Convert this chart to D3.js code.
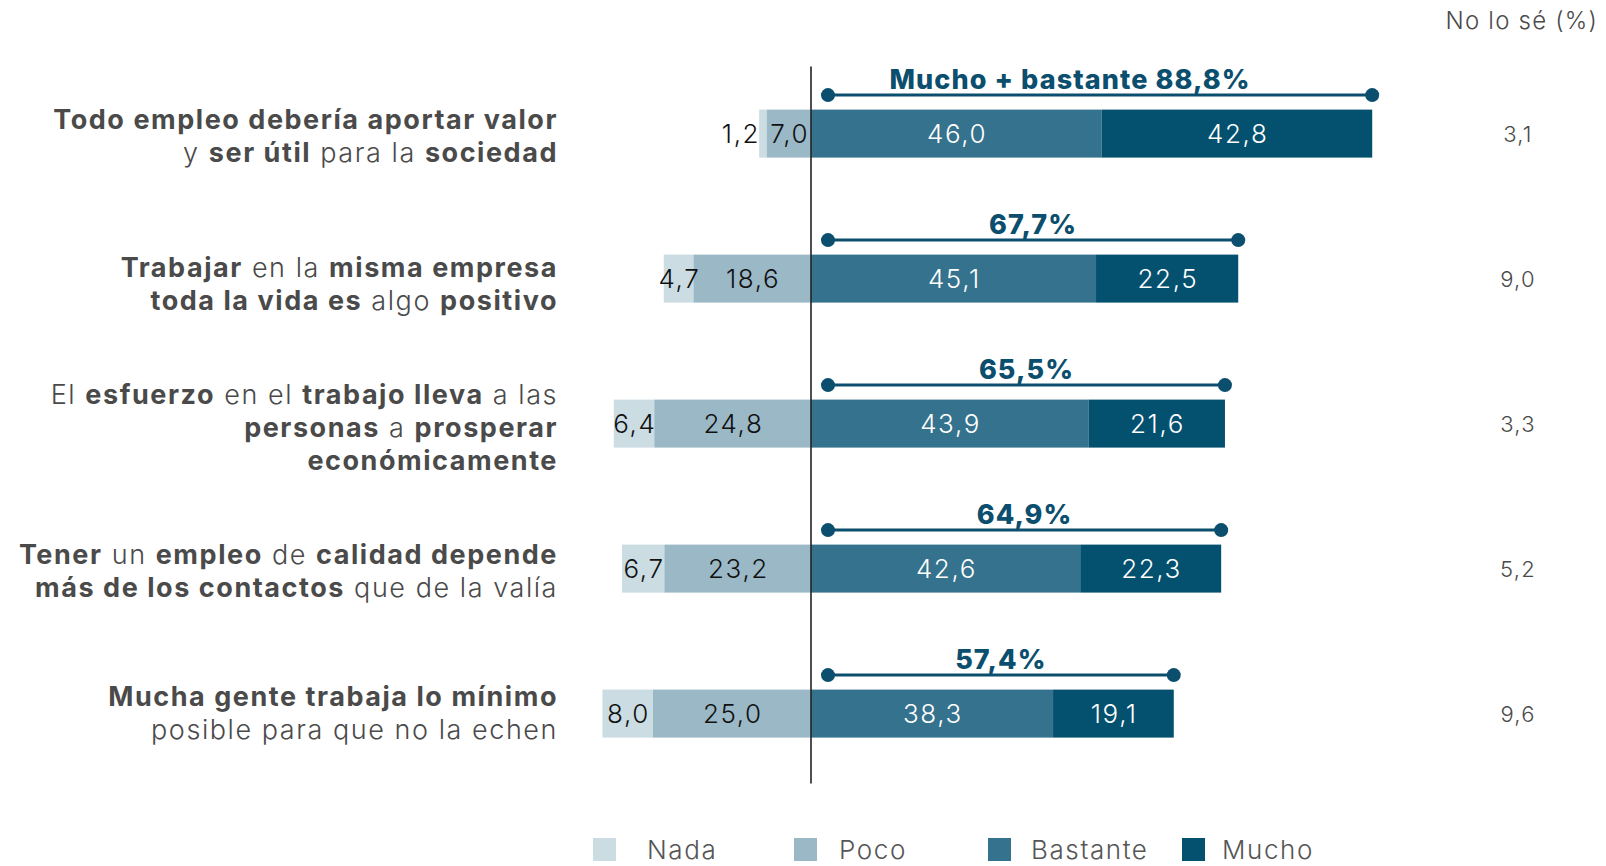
<!DOCTYPE html>
<html><head><meta charset="utf-8">
<script src="https://cdn.jsdelivr.net/npm/d3@7"></script>
<style>
html,body{margin:0;padding:0;background:#fff;}
svg{display:block;font-family:Inter,"Open Sans",sans-serif;}
</style></head>
<body><svg id="c" width="1606" height="866"></svg>
<script>
const categories = ["r1","r2","r3","r4","r5"];
const labels = [
  ["**Todo empleo debería aportar valor**", "y **ser útil** para la **sociedad**"],
  ["**Trabajar** en la **misma empresa**", "**toda la vida es** algo **positivo**"],
  ["El **esfuerzo** en el **trabajo lleva** a las", "**personas** a **prosperar**", "**económicamente**"],
  ["**Tener** un **empleo** de **calidad depende**", "**más de los contactos** que de la valía"],
  ["**Mucha gente trabaja lo mínimo**", "posible para que no la echen"]
];
const nada     = [1.2, 4.7, 6.4, 6.7, 8.0];
const poco     = [7.0, 18.6, 24.8, 23.2, 25.0];
const bastante = [46.0, 45.1, 43.9, 42.6, 38.3];
const mucho    = [42.8, 22.5, 21.6, 22.3, 19.1];
const noLoSe   = [3.1, 9.0, 3.3, 5.2, 9.6];
const totals   = ["Mucho + bastante 88,8%", "67,7%", "65,5%", "64,9%", "57,4%"];
const seriesNames = ["Nada","Poco","Bastante","Mucho"];
const colors = ["#cbdce3","#9bb8c6","#35728d","#03506f"];

const svg = d3.select("#c");
const fmt = v => v.toFixed(1).replace(".", ",");
const x = d3.scaleLinear().domain([-40, 100]).range([811 - 40*6.32, 811 + 100*6.32]);
const y = d3.scaleBand().domain(categories).range([12.6, 834.6]).padding(0.669);
const bh = y.bandwidth();

// segments
const segs = [];
categories.forEach((c,i)=>{
  segs.push({c, s:0, x0:-(nada[i]+poco[i]), x1:-poco[i], v:nada[i]});
  segs.push({c, s:1, x0:-poco[i], x1:0, v:poco[i]});
  segs.push({c, s:2, x0:0, x1:bastante[i], v:bastante[i]});
  segs.push({c, s:3, x0:bastante[i], x1:bastante[i]+mucho[i], v:mucho[i]});
});
svg.append("g").selectAll("rect").data(segs).join("rect")
  .attr("x", d=>x(d.x0)).attr("width", d=>x(d.x1)-x(d.x0))
  .attr("y", d=>y(d.c)).attr("height", bh)
  .attr("fill", d=>colors[d.s]);

svg.append("g").selectAll("text").data(segs).join("text")
  .attr("x", d => (d.s===0 && d.v<3) ? x(d.x0)+1 : (x(d.x0)+x(d.x1))/2 + 0.8)
  .attr("text-anchor", d => (d.s===0 && d.v<3) ? "end" : "middle")
  .attr("y", d=>y(d.c)+bh/2+9)
  .attr("font-size", 26).attr("font-weight", 300).attr("letter-spacing", 1.6)
  .attr("fill", d => d.s>=2 ? "#fff" : "#111")
  .text(d=>fmt(d.v));

// zero line
svg.append("line").attr("x1", x(0)).attr("x2", x(0)).attr("y1", 66.6).attr("y2", 783.5)
  .attr("stroke", "#222").attr("stroke-width", 1.6);

// brackets
const bc = "#0b4e6d";
categories.forEach((c,i)=>{
  const yy = y(c) - 14.5;
  const xa = x(0) + 17, xb = x(bastante[i]+mucho[i]);
  const g = svg.append("g");
  g.append("line").attr("x1", xa).attr("x2", xb).attr("y1", yy).attr("y2", yy)
    .attr("stroke", bc).attr("stroke-width", 3);
  g.append("circle").attr("cx", xa).attr("cy", yy).attr("r", 7).attr("fill", bc);
  g.append("circle").attr("cx", xb).attr("cy", yy).attr("r", 7).attr("fill", bc);
  g.append("text").attr("x", (xa+xb)/2 + (i===0 ? -30 : 0)).attr("y", yy - 6)
    .attr("text-anchor", "middle").attr("font-size", 27).attr("font-weight", 800)
    .attr("letter-spacing", 1.1)
    .attr("fill", bc).text(totals[i]);
});

// category labels
const labelShift = [0, 3, 1, 0, -3];
categories.forEach((c,i)=>{
  const lines = labels[i];
  const lh = 33;
  const cy = y(c) + bh/2 + 2 + labelShift[i];
  const t = svg.append("text").attr("text-anchor", "end").attr("font-size", 27)
    .attr("letter-spacing", 1.55).attr("fill", "#4a4a4a");
  lines.forEach((ln, j)=>{
    const base = cy - (lines.length-1)*lh/2 + j*lh + 10;
    const parts = ln.split("**");
    parts.forEach((p, k)=>{
      if (!p) return;
      const ts = t.append("tspan").attr("font-weight", k%2===1 ? 700 : 300).text(p);
      if (k===0 || (k===1 && parts[0]==="")) ts.attr("x", 558).attr("y", base);
    });
  });
});

// No lo sé
svg.append("text").attr("x", 1598).attr("y", 29).attr("text-anchor", "end")
  .attr("font-size", 24).attr("font-weight", 300).attr("letter-spacing", 1.2)
  .attr("fill", "#4a4a4a").text("No lo sé (%)");
svg.append("g").selectAll("text").data(categories).join("text")
  .attr("x", 1518).attr("y", (c)=>y(c)+bh/2+8).attr("text-anchor","middle")
  .attr("font-size", 22).attr("font-weight", 300).attr("letter-spacing", 1.2)
  .attr("fill", "#4a4a4a")
  .text((c,i)=>fmt(noLoSe[i]));

// legend
const legX = [593, 794, 988, 1182];
const legTX = [647, 839, 1031, 1222];
const lg = svg.append("g").selectAll("g").data(seriesNames).join("g");
lg.append("rect").attr("x", (d,i)=>legX[i]).attr("y", 838).attr("width", 23).attr("height", 23)
  .attr("fill", (d,i)=>colors[i]);
lg.append("text").attr("x", (d,i)=>legTX[i]).attr("y", 859).attr("font-size", 26).attr("font-weight", 300)
  .attr("letter-spacing", 1.6).attr("fill", "#555").text(d=>d);
</script></body></html>
